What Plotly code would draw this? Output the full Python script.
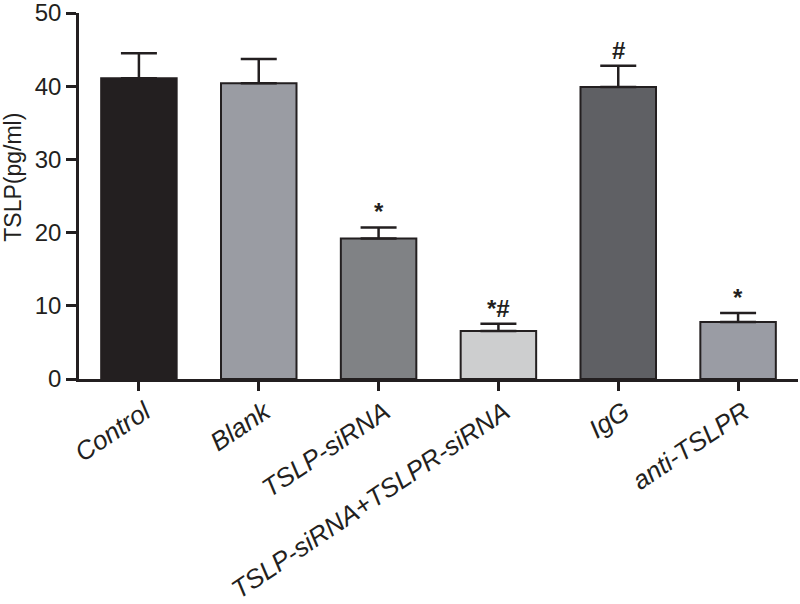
import plotly.graph_objects as go

categories = ["Control", "Blank", "TSLP-siRNA", "TSLP-siRNA+TSLPR-siRNA", "IgG", "anti-TSLPR"]
values = [41.1, 40.4, 19.2, 6.55, 39.9, 7.8]
errors = [3.4, 3.3, 1.5, 1.0, 2.9, 1.2]
sig_labels = ["", "", "*", "*#", "#", "*"]
colors = ["#231f20", "#9a9ca3", "#808285", "#cdcecf", "#5f6064", "#9a9ca4"]
y_ticks = [0, 10, 20, 30, 40, 50]
y_title = "TSLP(pg/ml)"

ink = "#231f20"
font_family = "Liberation Sans, Arial, sans-serif"

fig = go.Figure()
fig.add_trace(go.Bar(
    x=categories,
    y=values,
    width=0.63,
    marker=dict(color=colors, line=dict(color=ink, width=2)),
    error_y=dict(type="data", symmetric=False, array=errors,
                 arrayminus=[0] * len(errors), color=ink, thickness=2.5, width=18),
    showlegend=False,
    hoverinfo="skip",
))

for c, v, e, s in zip(categories, values, errors, sig_labels):
    if s:
        fig.add_annotation(x=c, y=v + e, text="<b>%s</b>" % s, showarrow=False,
                           yanchor="bottom", yshift=0,
                           font=dict(family=font_family, size=24, color=ink))

# y axis title, placed like the reference (slightly above the axis centre)
fig.add_annotation(xref="paper", yref="paper", x=0, y=0.55, xanchor="center", yanchor="middle",
                   xshift=-66, text=y_title, textangle=-90, showarrow=False,
                   font=dict(family=font_family, size=23, color=ink))

fig.update_layout(
    width=800, height=604,
    margin=dict(l=79, r=2, t=13, b=225),
    paper_bgcolor="white", plot_bgcolor="white",
    font=dict(family=font_family, color=ink),
)
fig.update_xaxes(
    range=[-0.5, 5.5], showline=True, linecolor=ink, linewidth=2.5,
    ticks="outside", ticklen=9, tickwidth=2.5, tickcolor=ink,
    tickangle=-34, tickfont=dict(family=font_family, size=26, color=ink, style="italic"),
    ticklabelshift=6, ticklabelstandoff=-4,
    showgrid=False, zeroline=False, automargin=False, ticklabeloverflow="allow",
)
fig.update_yaxes(
    range=[0, 50], tickvals=y_ticks, showline=True, linecolor=ink, linewidth=2.5,
    ticks="outside", ticklen=10, tickwidth=2.5, tickcolor=ink,
    tickfont=dict(family=font_family, size=24, color=ink),
    showgrid=False, zeroline=False, automargin=False, ticklabeloverflow="allow",
)

fig.write_html("out.html", config={"displayModeBar": False},
               post_script="document.body.style.margin='0';")
